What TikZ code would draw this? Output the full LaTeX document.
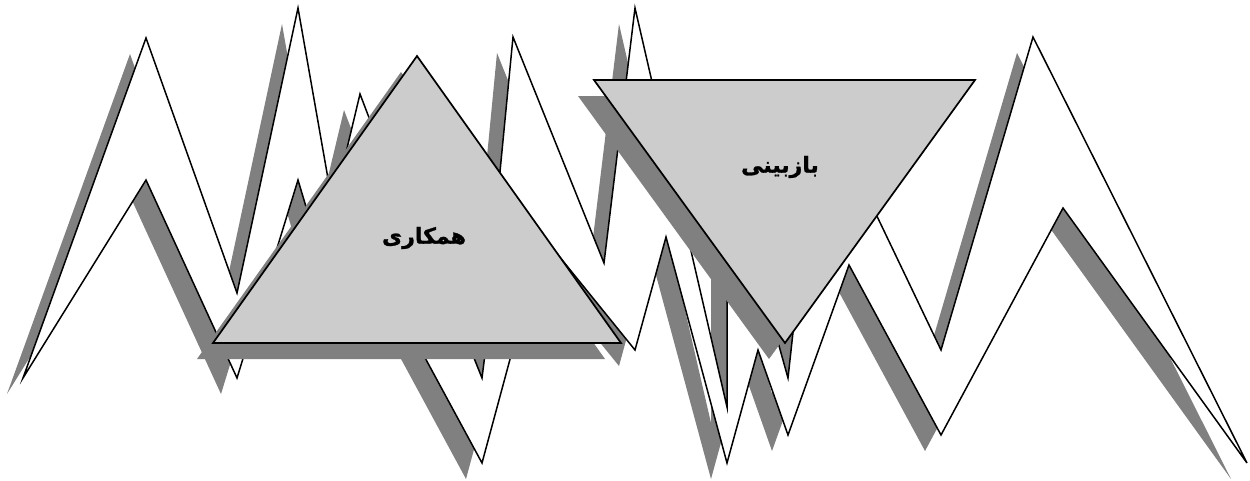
\documentclass[tikz,border=0pt]{standalone}
\usepackage{fontspec}
\newfontfamily\arabicfont[Script=Arabic, BoldFont={DejaVu Sans Bold}, BoldFeatures={FakeBold=1.2}]{DejaVu Sans}
\TeXXeTstate=1
\definecolor{shgray}{RGB}{128,128,128}
\definecolor{trigray}{RGB}{204,204,204}
\newcommand\mtnA[1]{\path[#1] (23,378) -- (146,38) -- (237,293) -- (298,8) -- (333,207) -- (360,94) -- (410,225) -- (340,320) -- (298,180) -- (237,378) -- (146,180) -- cycle;}
\newcommand\mtnB[1]{\path[#1] (410,330) -- (466,338) -- (482,378) -- (487,338) -- (526,300) -- (482,463) -- cycle;}
\newcommand\mtnC[1]{\path[#1] (499,182) -- (513,37) -- (604,263) -- (635,8) -- (727,407) -- (727,160) -- (788,378) -- (819,95) -- (941,350) -- (1033,37) -- (1247,463) -- (1063,208) -- (941,435) -- (849,265) -- (788,435) -- (758,350) -- (727,463) -- (666,237) -- (635,350) -- cycle;}
\newcommand\triUp[1]{\path[#1] (213,343) -- (621,343) -- (417,56) -- cycle;}
\newcommand\triDown[1]{\path[#1] (594,80) -- (975,80) -- (785,343) -- cycle;}
\begin{document}
\begin{tikzpicture}[x=1pt,y=-1pt,
  shade/.style={fill=shgray, draw=none, shift={(-16,16)}},
  mtn/.style={fill=white, draw=black, line width=1.5pt, line join=miter},
  tri/.style={fill=trigray, draw=black, line width=1.7pt, line join=miter},
  lbl/.style={font=\arabicfont\bfseries\fontsize{22}{26}\selectfont, inner sep=0pt}]
\useasboundingbox[fill=white] (0,0) rectangle (1250,480);
\mtnA{shade}
\mtnA{mtn}
\mtnB{shade}
\mtnB{mtn}
\mtnC{shade}
\mtnC{mtn}
\triUp{shade}
\triUp{tri}
\triDown{shade}
\triDown{tri}
\node[lbl] (hamkari) at (424,238) {\beginR همکاری\endR};
\node[lbl] (bazbini) at (780,167) {\beginR بازبینی\endR};
\end{tikzpicture}
\end{document}
